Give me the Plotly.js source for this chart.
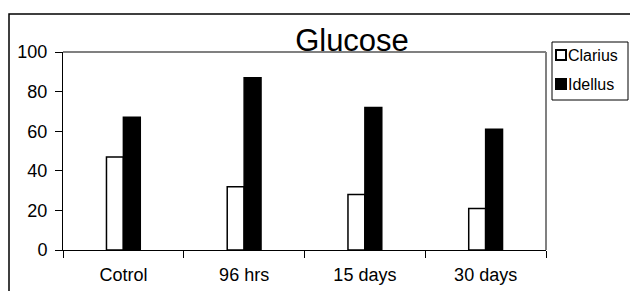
<!DOCTYPE html>
<html><head><meta charset="utf-8">
<script src="https://cdn.plot.ly/plotly-3.0.1.min.js"></script>
<style>html,body{margin:0;padding:0;background:#fff}#chart{width:630px;height:291px}</style>
</head><body><div id="chart"></div>
<script>
const categories = ["Cotrol", "96 hrs", "15 days", "30 days"];
const seriesNames = ["Clarius", "Idellus"];
const clarius = [47, 32, 28, 21];
const idellus = [67, 87, 72, 61];
const seriesFill = ['#ffffff', '#000000'];
const yTicks = [0, 20, 40, 60, 80, 100];

const L = 63, R = 546, T = 52, B = 250, W = 630, H = 291;
const pw = R - L, ph = B - T;
const px = v => (v - L) / pw;
const py = v => (B - v) / ph;

const traces = [
  {type: 'bar', name: seriesNames[0], x: categories, y: clarius, showlegend: false,
   marker: {color: seriesFill[0], line: {color: '#000000', width: 1.5}}},
  {type: 'bar', name: seriesNames[1], x: categories, y: idellus, showlegend: false,
   marker: {color: seriesFill[1], line: {color: '#000000', width: 1.5}}}
];

// manual legend (box, swatches, labels)
const shapes = [
  {type: 'line', xref: 'paper', yref: 'paper', x0: 0, x1: 1, y0: 1, y1: 1, line: {color: '#808080', width: 2}},
  {type: 'line', xref: 'paper', yref: 'paper', x0: 1, x1: 1, y0: 0, y1: 1, line: {color: '#808080', width: 2}},
  {type: 'rect', xref: 'paper', yref: 'paper', x0: px(9), x1: px(640), y0: py(300), y1: py(14), line: {color: '#000', width: 1.5}, layer: 'below'},
  {type: 'rect', xref: 'paper', yref: 'paper', x0: px(552), x1: px(628), y0: py(100), y1: py(42), line: {color: '#000', width: 1}, fillcolor: '#fff'}
];
const annotations = [];
const legendY = [55, 84];
seriesNames.forEach((n, i) => {
  const cy = legendY[i];
  shapes.push({type: 'rect', xref: 'paper', yref: 'paper', x0: px(556), x1: px(566), y0: py(cy + 5), y1: py(cy - 5),
               fillcolor: seriesFill[i], line: {color: '#000', width: 2}});
  annotations.push({xref: 'paper', yref: 'paper', x: px(567), y: py(cy), xanchor: 'left', yanchor: 'middle',
                    text: n, showarrow: false, font: {size: 16, color: '#000'}, borderpad: 0, xshift: 0});
});

const layout = {
  width: W, height: H,
  margin: {l: L, r: W - R, t: T, b: H - B, pad: 0, autoexpand: false},
  paper_bgcolor: '#ffffff', plot_bgcolor: '#ffffff',
  font: {family: 'Arial, "Liberation Sans", sans-serif', color: '#000000'},
  title: {text: 'Glucose', font: {size: 31, color: '#000'}, x: px(352), xref: 'paper', xanchor: 'center',
          y: 1 - 51 / H, yref: 'container', yanchor: 'bottom'},
  barmode: 'group', bargap: 0.72, bargroupgap: 0,
  showlegend: false,
  xaxis: {type: 'category', showgrid: false, zeroline: false, showline: true, linecolor: '#000', linewidth: 1,
          ticks: 'outside', ticklen: 7, tickcolor: '#000', tickson: 'boundaries', tickfont: {size: 18},
          ticklabelstandoff: 8, fixedrange: true},
  yaxis: {range: [0, 100], tickvals: yTicks, showgrid: false, zeroline: false, showline: true, linecolor: '#000', linewidth: 1,
          ticks: 'outside', ticklen: 7, tickcolor: '#000', tickfont: {size: 18}, ticklabelstandoff: 4, fixedrange: true},
  shapes: shapes,
  annotations: annotations
};

Plotly.newPlot('chart', traces, layout, {displayModeBar: false, staticPlot: true});
</script></body></html>
